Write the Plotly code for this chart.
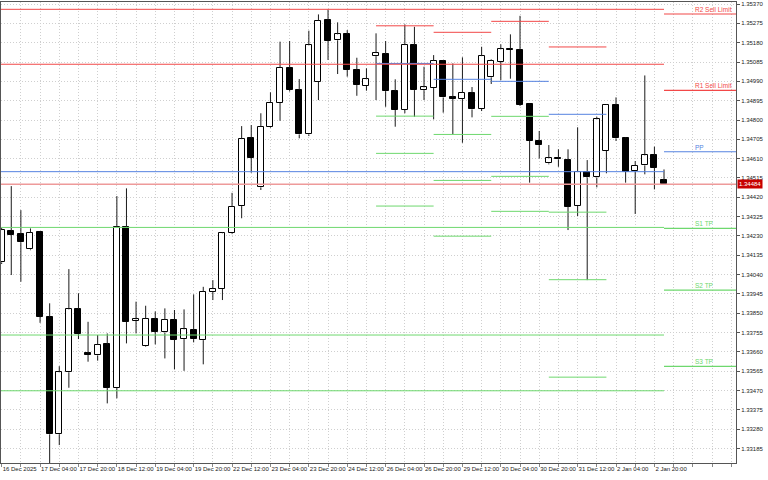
import plotly.graph_objects as go

# ---------------- data (H4 bars, 16 Dec 2025 12:00 .. 5 Jan 00:00) ----------------
opens = [1.34100, 1.34256, 1.34238, 1.34164, 1.34248, 1.33833, 1.33255, 1.33560, 1.33871, 1.33654,
         1.33643, 1.33697, 1.33484, 1.34272, 1.33812, 1.33690, 1.33820, 1.33756, 1.33815, 1.33723,
         1.33769, 1.33718, 1.33956, 1.33969, 1.34243, 1.34377, 1.34710, 1.34469, 1.34767, 1.34885,
         1.35057, 1.34947, 1.34729, 1.34988, 1.35291, 1.35192, 1.35221, 1.35047, 1.34967, 1.35114,
         1.35124, 1.34942, 1.34849, 1.35168, 1.34947, 1.34959, 1.35091, 1.34911, 1.34903, 1.34934,
         1.34854, 1.35010, 1.35086, 1.35150, 1.35145, 1.34877, 1.34697, 1.34587, 1.34611, 1.34603,
         1.34377, 1.34546, 1.34518, 1.34649, 1.34874, 1.34711, 1.34548, 1.34577, 1.34626, 1.34503]
highs = [1.34269, 1.34475, 1.34357, 1.34267, 1.34252, 1.33899, 1.33590, 1.34067, 1.33948, 1.33808,
         1.33743, 1.33751, 1.34426, 1.34464, 1.33907, 1.33887, 1.33859, 1.33874, 1.33866, 1.33869,
         1.33943, 1.33980, 1.34013, 1.34249, 1.34442, 1.34770, 1.34775, 1.34833, 1.34936, 1.35185,
         1.35188, 1.35001, 1.35239, 1.35319, 1.35344, 1.35280, 1.35242, 1.35106, 1.35054, 1.35226,
         1.35188, 1.35000, 1.35270, 1.35258, 1.35062, 1.35119, 1.35095, 1.35078, 1.35108, 1.34962,
         1.35160, 1.35098, 1.35172, 1.35221, 1.35312, 1.34880, 1.34746, 1.34677, 1.34656, 1.34656,
         1.34764, 1.34603, 1.34816, 1.34878, 1.34911, 1.34715, 1.34598, 1.35019, 1.34669, 1.34557]
lows = [1.34092, 1.34038, 1.34005, 1.34160, 1.33803, 1.33080, 1.33202, 1.33484, 1.33723, 1.33612,
        1.33617, 1.33407, 1.33432, 1.33702, 1.33751, 1.33686, 1.33697, 1.33628, 1.33574, 1.33567,
        1.33707, 1.33599, 1.33915, 1.33915, 1.34239, 1.34317, 1.34541, 1.34456, 1.34762, 1.34796,
        1.34940, 1.34710, 1.34721, 1.34898, 1.35095, 1.35026, 1.35013, 1.34919, 1.34944, 1.34898,
        1.34865, 1.34767, 1.34833, 1.34816, 1.34898, 1.34803, 1.34836, 1.34731, 1.34688, 1.34813,
        1.34844, 1.34977, 1.34996, 1.35003, 1.34869, 1.34492, 1.34611, 1.34582, 1.34570, 1.34259,
        1.34328, 1.34013, 1.34469, 1.34538, 1.34697, 1.34492, 1.34338, 1.34533, 1.34459, 1.34484]
closes = [1.34259, 1.34236, 1.34199, 1.34246, 1.33833, 1.33255, 1.33560, 1.33869, 1.33749, 1.33645,
          1.33694, 1.33484, 1.34272, 1.33808, 1.33820, 1.33823, 1.33759, 1.33817, 1.33720, 1.33771,
          1.33723, 1.33956, 1.33969, 1.34243, 1.34374, 1.34706, 1.34613, 1.34767, 1.34885, 1.35057,
          1.34947, 1.34729, 1.35167, 1.35288, 1.35190, 1.35221, 1.35046, 1.34973, 1.35000, 1.35129,
          1.34942, 1.34849, 1.35168, 1.34947, 1.34960, 1.35091, 1.34911, 1.34903, 1.34934, 1.34852,
          1.35114, 1.35090, 1.35147, 1.35144, 1.34875, 1.34697, 1.34677, 1.34611, 1.34607, 1.34374,
          1.34544, 1.34518, 1.34803, 1.34874, 1.34710, 1.34546, 1.34575, 1.34626, 1.34565, 1.34484]

time_labels = ["16 Dec 2025", "17 Dec 04:00", "17 Dec 20:00", "18 Dec 12:00", "19 Dec 04:00",
               "19 Dec 20:00", "22 Dec 12:00", "23 Dec 04:00", "23 Dec 20:00", "24 Dec 12:00",
               "26 Dec 04:00", "26 Dec 20:00", "29 Dec 12:00", "30 Dec 04:00", "30 Dec 20:00",
               "31 Dec 12:00", "2 Jan 04:00", "2 Jan 20:00"]

price_ticks = [1.35370, 1.35275, 1.35180, 1.35085, 1.34990, 1.34895, 1.34800, 1.34705, 1.34610,
               1.34515, 1.34420, 1.34325, 1.34230, 1.34135, 1.34040, 1.33945, 1.33850, 1.33755,
               1.33660, 1.33565, 1.33470, 1.33375, 1.33280, 1.33185]

current_price = 1.34484

# daily pivot segments (first bar of day -> first bar of next day)
day_start = [39, 45, 51, 57]
day_end = [45, 51, 57, 63]
seg_r1 = [1.35263, 1.35231, 1.35285, 1.35159]
seg_pp = [1.35078, 1.35000, 1.34990, 1.34828]
seg_s1 = [1.34819, 1.34729, 1.34818, 1.34347]
seg_s2 = [1.34636, 1.34503, 1.34523, 1.34015]
seg_s3 = [1.34377, 1.34229, 1.34351, 1.33536]

# long lines (chart start -> current bar)
long_levels = [1.35344, 1.35074, 1.34546, 1.34272, 1.33743, 1.33469]
long_kinds = ["r", "r", "p", "s", "s", "s"]

# current-day levels with labels (current bar -> right edge)
cur_names = ["R2 Sell Limit", "R1 Sell Limit", "PP", "S1 TP", "S2 TP", "S3 TP"]
cur_levels = [1.35321, 1.34946, 1.34644, 1.34267, 1.33964, 1.33589]
cur_kinds = ["r", "r", "p", "s", "s", "s"]

# ---------------- styling ----------------
COL = {"r": "#F24848", "p": "#5683E0", "s": "#6ED86E"}
FONT = "Liberation Sans, Arial, sans-serif"
X_MIN, X_MAX = -0.07, 76.5
Y_MIN, Y_MAX = 1.33114, 1.35380

n = len(opens)
idx = list(range(n))
last = idx[-1]

fig = go.Figure()

# wicks (drawn outside of bodies)
wx, wy = [], []
for i in idx:
    top = max(opens[i], closes[i])
    bot = min(opens[i], closes[i])
    if highs[i] > top:
        wx += [i, i, None]
        wy += [highs[i], top, None]
    if lows[i] < bot:
        wx += [i, i, None]
        wy += [bot, lows[i], None]
fig.add_trace(go.Scatter(x=wx, y=wy, mode="lines", line=dict(color="#1a1a1a", width=1),
                         hoverinfo="skip", showlegend=False))

# bodies
fig.add_trace(go.Bar(
    x=idx,
    base=[min(o, c) for o, c in zip(opens, closes)],
    y=[max(abs(c - o), 0.000004) for o, c in zip(opens, closes)],
    width=0.62,
    marker=dict(color=["#ffffff" if c >= o else "#000000" for o, c in zip(opens, closes)],
                line=dict(color="#000000", width=1)),
    showlegend=False, hoverinfo="skip"))

shapes = []
# daily segments
for lv_list, kind in [(seg_r1, "r"), (seg_pp, "p"), (seg_s1, "s"), (seg_s2, "s"), (seg_s3, "s")]:
    for a, b, lv in zip(day_start, day_end, lv_list):
        shapes.append(dict(type="line", xref="x", yref="y", x0=a, x1=b, y0=lv, y1=lv,
                           line=dict(color=COL[kind], width=1)))
# long lines
for lv, kind in zip(long_levels, long_kinds):
    shapes.append(dict(type="line", xref="x", yref="y", x0=X_MIN, x1=last, y0=lv, y1=lv,
                       line=dict(color=COL[kind], width=1)))
# current-day labelled lines
annotations = []
for name, lv, kind in zip(cur_names, cur_levels, cur_kinds):
    shapes.append(dict(type="line", xref="x", yref="y", x0=last, x1=X_MAX, y0=lv, y1=lv,
                       line=dict(color=COL[kind], width=1.2)))
    annotations.append(dict(x=last + 3, y=lv, xref="x", yref="y", text=name, showarrow=False,
                            xanchor="left", yanchor="bottom", yshift=-1,
                            font=dict(family=FONT, size=6.5, color=COL[kind])))
# current price line + tag
shapes.append(dict(type="line", xref="x", yref="y", x0=X_MIN, x1=X_MAX, y0=current_price,
                   y1=current_price, line=dict(color="#EE9A9A", width=1.5)))
annotations.append(dict(x=1, xref="paper", y=current_price, yref="y", text=f"{current_price:.5f}",
                        showarrow=False, xanchor="left", yanchor="middle", xshift=1,
                        bgcolor="#C80000", borderpad=1,
                        font=dict(family=FONT, size=6, color="#ffffff")))

tickvals_x = list(range(0, int(X_MAX) + 1, 2))
ticktext_x = [time_labels[v // 4] if (v % 4 == 0 and v // 4 < len(time_labels)) else ""
              for v in tickvals_x]

fig.update_layout(
    width=768, height=480,
    margin=dict(l=1, r=32, t=2, b=17, autoexpand=False),
    paper_bgcolor="#ffffff", plot_bgcolor="#ffffff",
    barmode="overlay", bargap=0,
    shapes=shapes, annotations=annotations,
    showlegend=False,
    xaxis=dict(range=[X_MIN, X_MAX], tickmode="array", tickvals=tickvals_x, ticktext=ticktext_x,
               ticklabelposition="outside right", ticks="outside", ticklen=3, tickcolor="#888888",
               tickangle=0, automargin=False,
               tickfont=dict(family=FONT, size=6, color="#222222"),
               showgrid=True, gridcolor="#CFCFCF", griddash="1px,2px", gridwidth=1,
               showline=True, linecolor="#555555", linewidth=1, mirror=True, zeroline=False,
               fixedrange=True),
    yaxis=dict(range=[Y_MIN, Y_MAX], side="right", tickmode="array", tickvals=price_ticks,
               ticktext=[f"{v:.5f}" for v in price_ticks],
               ticks="outside", ticklen=3, tickcolor="#555555", automargin=False,
               tickfont=dict(family=FONT, size=6, color="#222222"),
               showgrid=True, gridcolor="#CFCFCF", griddash="1px,2px", gridwidth=1,
               showline=True, linecolor="#555555", linewidth=1, mirror=True, zeroline=False,
               fixedrange=True),
)

fig.write_html("out.html", config={"displayModeBar": False},
               post_script="document.body.style.margin='0';document.body.style.padding='0';")
